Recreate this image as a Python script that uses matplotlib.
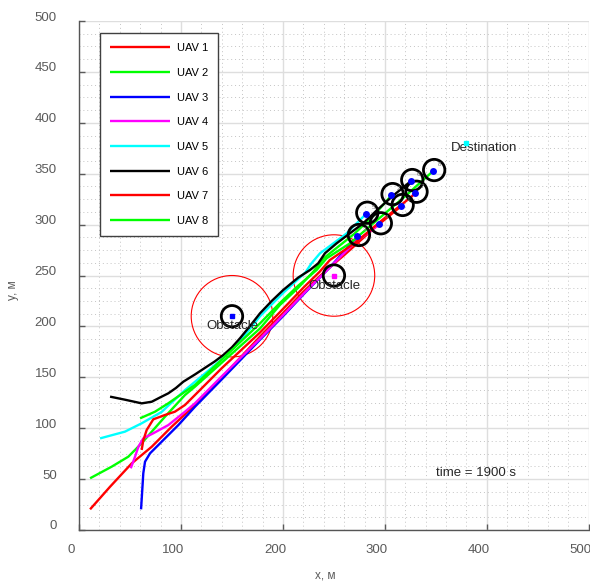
import numpy as np
import matplotlib
matplotlib.use('Agg')
import matplotlib.pyplot as plt
import matplotlib.transforms as mtransforms
from matplotlib.patches import Circle
from matplotlib.ticker import MultipleLocator

plt.rcParams['font.family'] = ['Liberation Sans', 'DejaVu Sans']

# trajectories
uav1_x = [10.8, 30.4, 51.7, 71.3, 90.9, 113.7, 140, 177.5, 200, 220, 240, 260, 290, 317.4]
uav1_y = [20.3, 42.5, 65.5, 81.8, 101.5, 122.8, 150, 190, 213, 234, 253, 270, 297, 319.3]

uav2_x = [10.8, 32, 48.3, 61.4, 71.3, 84.3, 103.9, 113.7, 140, 177.5, 197, 215, 230, 240, 255, 270, 290, 307.5]
uav2_y = [50.8, 62.2, 72, 85.2, 96.6, 111.3, 132.6, 140.8, 164.4, 198, 221, 238, 254, 267, 279, 291, 310, 330]

uav3_x = [60.8, 62, 63, 64.7, 69.6, 81, 97.4, 113.7, 140, 177.5, 200, 221.6, 246, 274.5]
uav3_y = [20.3, 39.3, 55.7, 67.1, 75.3, 86.7, 103.1, 121.1, 148, 187, 210, 233, 258, 289.8]

uav4_x = [50.7, 54.9, 58.2, 63, 72.8, 87.6, 103.9, 113.7, 140, 177.5, 200, 222, 246, 270, 296]
uav4_y = [60.6, 72, 81.8, 90, 95, 103.1, 116.2, 124.5, 151, 188, 211, 234, 258, 282, 301.3]

uav5_x = [20.6, 45, 61.4, 81, 104, 125, 141.5, 158, 177.5, 200.3, 215, 222, 228, 236.3, 248, 262, 282.7]
uav5_y = [90, 96.6, 104.8, 116, 137.5, 155, 169, 185.5, 210, 233, 246.5, 253, 262, 271.8, 280.5, 291, 311.7]

uav6_x = [30.4, 45, 61.4, 71.3, 80, 87.6, 95, 102.3, 114, 125.2, 133, 141.5, 150, 157.8, 167, 177.5,
          189, 200.3, 215, 226.5, 234.6, 241.2, 252.6, 265.7, 278.7, 292, 307.5, 326.8]
uav6_y = [131, 128, 124.4, 126, 130.5, 134.3, 139.5, 145.7, 153, 160.4, 165.5, 171.9, 179.5, 188.3, 199.5, 212.9,
          225, 235.8, 248, 255.4, 262, 271.9, 281.6, 291.5, 301.3, 314, 328, 343.8]

uav7_x = [61.4, 63, 66.3, 72.8, 84.3, 94, 103.9, 113.7, 140, 177.5, 197, 220, 236, 246, 270.6, 298, 326, 331]
uav7_y = [78.6, 88, 98.2, 108.7, 113, 116.2, 122.8, 132.6, 159, 194, 214, 238, 253.7, 265.2, 282, 305, 327.4, 332.3]

uav8_x = [59.8, 74.5, 87.6, 103.9, 113.7, 140, 177.5, 197, 215, 233, 242.8, 265.7, 291.8, 320, 348.3]
uav8_y = [109.7, 116.2, 124.5, 135.9, 142.4, 167.4, 203, 223, 240, 255.4, 266.9, 281.6, 304, 328, 353.6]

uav_names = ['UAV 1', 'UAV 2', 'UAV 3', 'UAV 4', 'UAV 5', 'UAV 6', 'UAV 7', 'UAV 8']
uav_colors = ['#ff0000', '#00ff00', '#0000ff', '#ff00ff', '#00ffff', '#000000', '#ff0000', '#00ff00']

obst_x = [150, 250]
obst_y = [210, 250]
obst_colors = ['#0000ff', '#ff00ff']
obst_zone = 40
obst_body = 10.5

dest_x, dest_y = 379.4, 380
time_s = 1900

fig = plt.figure(figsize=(5.9, 5.81), dpi=100)
ax = fig.add_axes([0.134, 0.0878, 0.864, 0.876])

trajs = [(uav1_x, uav1_y), (uav2_x, uav2_y), (uav3_x, uav3_y), (uav4_x, uav4_y),
         (uav5_x, uav5_y), (uav6_x, uav6_y), (uav7_x, uav7_y), (uav8_x, uav8_y)]

# obstacles
for ox, oy, oc in zip(obst_x, obst_y, obst_colors):
    ax.add_patch(Circle((ox, oy), obst_zone, fill=False, ec='#ff0000', lw=0.8, zorder=2))
    ax.add_patch(Circle((ox, oy), obst_body, fill=False, ec='black', lw=2, zorder=5))
    ax.plot(ox, oy, 's', color=oc, ms=2.5, zorder=6)
    ax.text(ox, oy - 10, 'Obstacle', ha='center', va='center', fontsize=9.5, color='#262626', zorder=7)

lines = []
for (tx, ty), c, name in zip(trajs, uav_colors, uav_names):
    ln, = ax.plot(tx, ty, color=c, lw=1.7, label=name, zorder=3,
                  solid_capstyle='butt', solid_joinstyle='round')
    lines.append(ln)

# final positions
for i, (tx, ty) in enumerate(trajs):
    ax.add_patch(Circle((tx[-1], ty[-1]), obst_body, fill=False, ec='black', lw=2, zorder=5))
    ax.plot(tx[-1] - 1.5, ty[-1] - 1, 'o', color='#0000ff', ms=5, mec='none', zorder=6)
    ax.text(tx[-1] + 4, ty[-1] + 4, str(i + 1), fontsize=4.5, color='#777777', zorder=7)

ax.plot(dest_x, dest_y, 's', color='#00ffff', ms=3, zorder=6)
ax.text(dest_x - 14.5, dest_y - 5, 'Destination', ha='left', va='center', fontsize=9.5, color='#262626')
ax.text(350, 56, 'time = %d s' % time_s, ha='left', va='center', fontsize=9.5, color='#262626')

ax.set_xlim(0, 500)
ax.set_ylim(0, 500)
ax.xaxis.set_major_locator(MultipleLocator(100))
ax.yaxis.set_major_locator(MultipleLocator(50))
ax.xaxis.set_minor_locator(MultipleLocator(20))
ax.yaxis.set_minor_locator(MultipleLocator(12.5))
ax.grid(True, which='major', color='#dedede', lw=1, ls='-')
ax.grid(True, which='minor', color='#c4c4c4', lw=0.7, ls=(0, (1, 3)))
ax.set_axisbelow(True)

ax.tick_params(which='major', direction='in', length=4, width=1, colors='#5a5a5a',
               labelsize=9.5, pad=10)
ax.tick_params(axis='y', which='major', pad=16)
ax.tick_params(which='minor', length=0)
for s in ['top', 'right']:
    ax.spines[s].set_visible(False)
for s in ['left', 'bottom']:
    ax.spines[s].set_color('#555555')
    ax.spines[s].set_linewidth(1)

ax.set_xlabel('x, м', fontsize=8.5, color='#5a5a5a')
ax.set_ylabel('y, м', fontsize=8.5, color='#5a5a5a')
ax.xaxis.set_label_coords(0.482, -0.078)
ax.yaxis.set_label_coords(-0.118, 0.471)

leg = ax.legend(handles=lines, loc='upper left', bbox_to_anchor=(0.041, 0.976),
                fontsize=8, frameon=True, fancybox=False, handlelength=5.4,
                handletextpad=0.6, labelspacing=1.32, borderpad=0.9, borderaxespad=0)
leg.get_frame().set_edgecolor('#404040')
leg.get_frame().set_linewidth(1)
leg.get_frame().set_alpha(1)

# tick labels sit a little off their ticks in the original
fig.canvas.draw()
dx = mtransforms.ScaledTranslation(-8 / 100, 0, fig.dpi_scale_trans)
dy = mtransforms.ScaledTranslation(0, 5 / 100, fig.dpi_scale_trans)
for lbl in ax.get_xticklabels():
    lbl.set_transform(lbl.get_transform() + dx)
for lbl in ax.get_yticklabels():
    lbl.set_transform(lbl.get_transform() + dy)

fig.savefig('out.png', dpi=100)
